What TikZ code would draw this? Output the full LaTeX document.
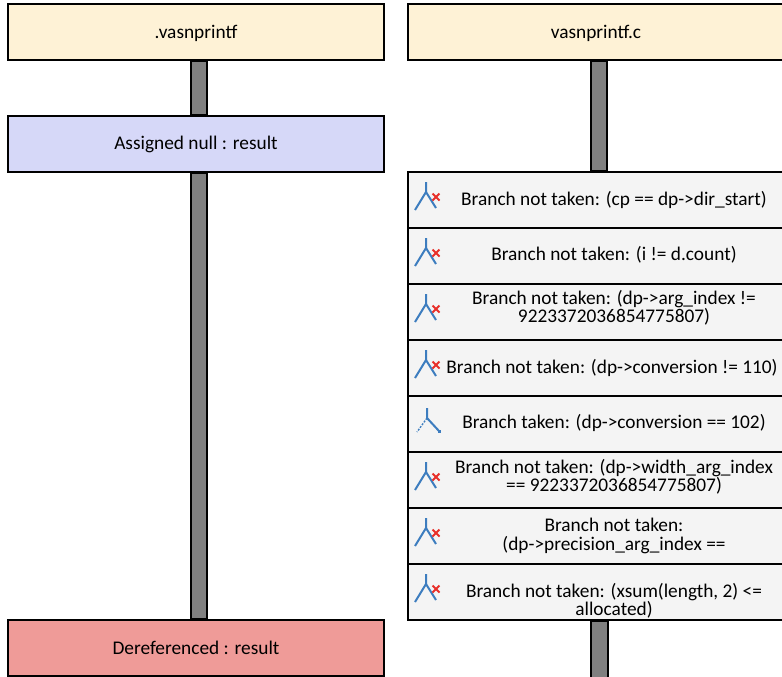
\documentclass[tikz,border=0pt]{standalone}
\usepackage{fontspec}
\setmainfont{Carlito}
\usetikzlibrary{calc}
\definecolor{headfill}{HTML}{FEF2D6}
\definecolor{nullfill}{HTML}{D6D8F8}
\definecolor{derefill}{HTML}{EF9B98}
\definecolor{branchfill}{HTML}{F4F4F4}
\definecolor{lifegray}{HTML}{808080}
\definecolor{iconblue}{HTML}{3D7DBF}
\definecolor{iconred}{HTML}{E8302A}
\tikzset{
  box/.style={draw=black, line width=1.5pt, minimum width=282pt, minimum height=42pt, inner sep=0pt},
  head/.style={box, fill=headfill},
  event/.style={box, fill=#1},
  branch/.style={box, fill=branchfill},
  txt/.style={align=center, inner sep=0pt, font=\fontsize{14.5}{13.6}\selectfont},
  life/.style={draw=black, fill=lifegray, line width=1.5pt},
  icon/.style={draw=iconblue, line width=1.5pt},
  nottaken/.pic={
    \draw[icon] (0,-18) -- (0,-8) -- (-11,10);
    \draw[icon] (0,-8) -- (10,8);
    \draw[iconred, line width=1.5pt] (6.5,-6.5) -- (13.5,0.5) (6.5,0.5) -- (13.5,-6.5);
  },
  taken/.pic={
    \draw[icon] (0,-16) -- (0,-6) -- (12,7);
    \fill[iconblue] (11,6) rectangle (14,9);
    \draw[icon, densely dotted, line width=1pt] (0,-6) -- (-10,8);
  }
}
\begin{document}
\begin{tikzpicture}[x=0.75pt, y=-0.75pt]
  \useasboundingbox (0,0) rectangle (782,676);
  \clip (0,0) rectangle (782,676);
  % left column
  \node[head] (hdrL) at (196,32) {};
  \node[txt] (hdrLt) at (196,33) {.vasnprintf};
  \node[event=nullfill] (asg) at (196,144) {};
  \node[txt] (asgt) at (196,144) {Assigned null : result};
  \node[event=derefill] (deref) at (196,648) {};
  \node[txt] (dereft) at (196,648) {Dereferenced : result};
  \draw[life] ($(hdrL.south west)+(184,0)$) rectangle ($(asg.north west)+(200,0)$);
  \draw[life] ($(asg.south west)+(184,0)$) rectangle ($(deref.north west)+(200,0)$);
  % right column
  \node[head] (hdrR) at (596,32) {};
  \node[txt] (hdrRt) at (596,33) {vasnprintf.c};
  \node[branch] (br1) at (596,200) {};
  \node[branch] (br2) at (596,256) {};
  \node[branch] (br3) at (596,312) {};
  \node[branch] (br4) at (596,368) {};
  \node[branch] (br5) at (596,424) {};
  \node[branch] (br6) at (596,480) {};
  \node[branch] (br7) at (596,536) {};
  \node[branch] (br8) at (596,592) {};
  \coordinate (endR) at (600,690);
  \draw[life] ($(hdrR.south west)+(184,0)$) rectangle ($(br1.north west)+(200,0)$);
  \draw[life] ($(br8.south west)+(184,0)$) rectangle ($(endR)+(8,0)$);
  \pic at (426,200) {nottaken};
  \pic at (426,256) {nottaken};
  \pic at (426,312) {nottaken};
  \pic at (426,368) {nottaken};
  \pic at (427,424) {taken};
  \pic at (426,480) {nottaken};
  \pic at (426,536) {nottaken};
  \pic at (426,592) {nottaken};
  \node[txt] (br1t) at (614,200) {Branch not taken: (cp == dp->dir\_start)};
  \node[txt] (br2t) at (614,255) {Branch not taken: (i != d.count)};
  \node[txt] (br3t) at (614,307.5) {Branch not taken: (dp->arg\_index !=\\9223372036854775807)};
  \node[txt] (br4t) at (612,368) {Branch not taken: (dp->conversion != 110)};
  \node[txt] (br5t) at (614,423) {Branch taken: (dp->conversion == 102)};
  \node[txt] (br6t) at (614,477) {Branch not taken: (dp->width\_arg\_index\\== 9223372036854775807)};
  \node[txt] (br7t) at (614,536) {Branch not taken:\\(dp->precision\_arg\_index ==};
  \node[txt] (br8t) at (614,601) {Branch not taken: (xsum(length, 2) <=\\allocated)};
\end{tikzpicture}
\end{document}
